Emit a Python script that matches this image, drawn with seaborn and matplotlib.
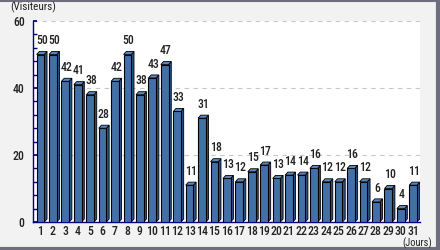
import matplotlib
matplotlib.use("Agg")
import matplotlib.pyplot as plt
import matplotlib.patches as mpatches
import seaborn as sns
import pandas as pd
from matplotlib import font_manager

days = [str(i) for i in range(1, 32)]
visits = [50, 50, 42, 41, 38, 28, 42, 50, 38, 43, 47, 33, 11, 31, 18, 13, 12, 15, 17,
          13, 14, 14, 16, 12, 12, 16, 12, 6, 10, 4, 11]
y_ticks = [0, 20, 40, 60]

sns.set_theme(style="white")
names = {f.name for f in font_manager.fontManager.ttflist}
fam = ["Roboto Condensed"] if "Roboto Condensed" in names else ["DejaVu Sans"]
plt.rcParams["font.family"] = fam + ["DejaVu Sans"]
plt.rcParams["font.stretch"] = "condensed"

df = pd.DataFrame({"day": days, "visits": visits})

fig = plt.figure(figsize=(4.4, 2.5), dpi=100, facecolor="#f2f2f2")
ax = fig.add_axes([33/440, 1-222/250, 387/440, 201/250])
ax.set_facecolor("white")

sns.barplot(data=df, x="day", y="visits", color="#4470a8", saturation=1,
            edgecolor="black", linewidth=0.8, width=0.62, ax=ax, zorder=3)

# pseudo-3D sides/top derived from each bar
dx, dy = 0.22, 0.9
for p in list(ax.patches):
    x0, w, h = p.get_x(), p.get_width(), p.get_height()
    side = mpatches.Polygon([(x0+w, 0), (x0+w+dx, dy), (x0+w+dx, h+dy), (x0+w, h)],
                            closed=True, facecolor="#2f5283", edgecolor="black",
                            linewidth=0.6, zorder=2.9)
    top = mpatches.Polygon([(x0, h), (x0+dx, h+dy), (x0+w+dx, h+dy), (x0+w, h)],
                           closed=True, facecolor="#5a86bf", edgecolor="black",
                           linewidth=0.6, zorder=3.1)
    ax.add_patch(side)
    ax.add_patch(top)

for i, v in enumerate(visits):
    ax.text(i + 0.1, v + 2.2, str(v), ha="center", va="bottom", fontsize=8.5,
            color="#222222", zorder=5, fontweight="medium")

ax.set_ylim(0, 60)
ax.set_xlim(-0.6, 30.55)
ax.set_yticks(y_ticks)
ax.set_yticks(range(0, 61, 4), minor=True)
ax.yaxis.grid(True, which="major", linestyle=(0, (4, 4)), color="#c8c8c8", linewidth=0.8)
ax.set_axisbelow(True)
ax.tick_params(axis="y", which="both", direction="in", length=3, color="#000080",
               labelsize=8.5, left=True, pad=6)
ax.tick_params(axis="x", which="both", length=0, labelsize=8.5, pad=2)
for lab in ax.get_xticklabels() + ax.get_yticklabels():
    lab.set_color("#222222")
    lab.set_fontweight("medium")
ax.set_xlabel("")
ax.set_ylabel("")
for s in ["top", "right"]:
    ax.spines[s].set_visible(False)
for s in ["left", "bottom"]:
    ax.spines[s].set_color("#000080")
    ax.spines[s].set_linewidth(1.0)

fig.text(10/440, 1-7/250, "(Visiteurs)", fontsize=8, ha="left", va="center", color="#222222")
fig.text(432/440, 1-243/250, "(Jours)", fontsize=7.5, ha="right", va="center", color="#222222")

# frame border
fig.add_artist(plt.Line2D([0, 1], [0.998, 0.998], transform=fig.transFigure, color="#6e6e7e", lw=1.5))
fig.add_artist(plt.Line2D([0.996, 0.996], [0, 1], transform=fig.transFigure, color="#6e6e7e", lw=3))
fig.add_artist(plt.Line2D([0, 1], [0.006, 0.006], transform=fig.transFigure, color="#6e6e7e", lw=3))

fig.savefig("out.png", dpi=100, facecolor=fig.get_facecolor())
